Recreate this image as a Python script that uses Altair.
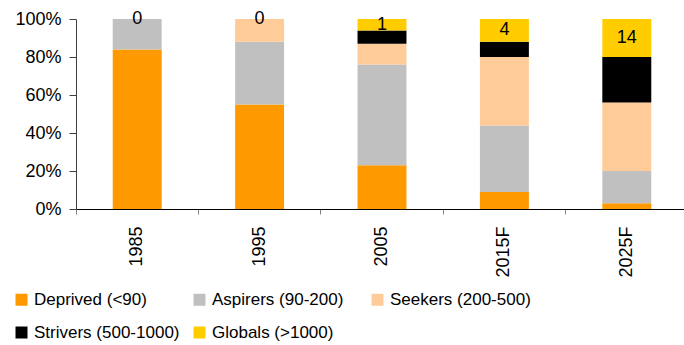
import altair as alt
import pandas as pd

# Household income classes, share of households (%) by year
years = ["1985", "1995", "2005", "2015F", "2025F"]
groups = [
    "Deprived (<90)",
    "Aspirers (90-200)",
    "Seekers (200-500)",
    "Strivers (500-1000)",
    "Globals (>1000)",
]
colors = ["#FF9900", "#C0C0C0", "#FFCC99", "#000000", "#FFCC00"]

deprived = [84, 55, 23, 9, 3]
aspirers = [16, 33, 53, 35, 17]
seekers = [0, 12, 11, 36, 36]
strivers = [0, 0, 7, 8, 24]
globals_ = [0, 0, 6, 12, 20]
# figures printed on the Globals segment
globals_label = [0, 0, 1, 4, 14]

FONT = "Liberation Sans"

series = [deprived, aspirers, seekers, strivers, globals_]
rows = []
for g_idx, (g, vals) in enumerate(zip(groups, series)):
    for y, v in zip(years, vals):
        rows.append({"year": y, "group": g, "share": v, "rank": g_idx})
df = pd.DataFrame(rows)

# label sits in the middle of the top (Globals) segment
lab = pd.DataFrame(
    {
        "year": years,
        "label": [str(v) for v in globals_label],
        "mid": [100 - g / 2 for g in globals_],
    }
)

x_scale = alt.Scale(domain=years, range=[0, 612], paddingInner=0, paddingOuter=0)
y_scale = alt.Scale(domain=[0, 100], nice=False)

x_axis = alt.Axis(
    title=None,
    labelAngle=-90,
    bandPosition=0,
    labelFont=FONT,
    labelFontSize=18,
    labelColor="#000000",
    labelPadding=12,
    labelOverlap=False,
    tickSize=5,
    tickColor="#808080",
    domainColor="#000000",
    grid=False,
)
y_axis = alt.Axis(
    title=None,
    values=[0, 20, 40, 60, 80, 100],
    labelExpr="datum.value + '%'",
    labelFont=FONT,
    labelFontSize=18,
    labelColor="#000000",
    labelPadding=8,
    labelOverlap=False,
    labelBound=False,
    labelFlush=False,
    tickSize=7,
    tickColor="#404040",
    domainColor="#404040",
    grid=False,
)

bars = alt.Chart(df).mark_bar(width=alt.RelativeBandSize(0.4)).encode(
    x=alt.X("year:N", scale=x_scale, sort=years, axis=x_axis),
    y=alt.Y("share:Q", stack="zero", scale=y_scale, axis=y_axis),
    color=alt.Color(
        "group:N",
        scale=alt.Scale(domain=groups, range=colors),
        legend=alt.Legend(
            title=None,
            orient="none",
            direction="horizontal",
            legendX=-63,
            legendY=272,
            columns=3,
            gridAlign="all",
            columnPadding=11,
            rowPadding=15,
            padding=0,
            symbolType="square",
            symbolSize=144,
            symbolStrokeWidth=0,
            symbolOpacity=1,
            labelFont=FONT,
            labelFontSize=17,
            labelColor="#000000",
            labelOffset=4,
            labelLimit=0,
        ),
    ),
    order=alt.Order("rank:Q", sort="ascending"),
)

labels = alt.Chart(lab).mark_text(
    font=FONT, fontSize=18, color="#000000", baseline="middle", align="center"
).encode(
    x=alt.X("year:N", scale=x_scale, sort=years, axis=x_axis),
    y=alt.Y("mid:Q", scale=y_scale, axis=y_axis),
    text="label:N",
)

chart = (
    alt.layer(bars, labels)
    .properties(
        width=607,
        height=190,
        background="#ffffff",
        autosize=alt.AutoSizeParams(type="none"),
        padding={"left": 76, "top": 19, "right": 1, "bottom": 136},
    )
    .configure_axis(labelOverlap=False)
    .configure_view(stroke=None)
)

chart.save("out.html", embed_options={"renderer": "svg", "actions": False})
